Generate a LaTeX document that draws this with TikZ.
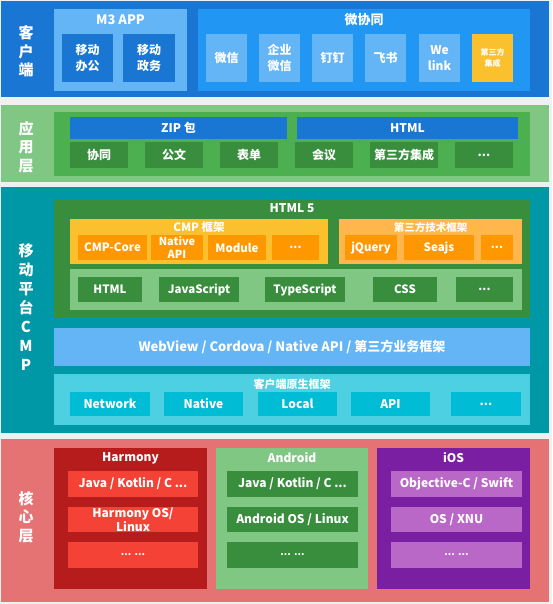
\documentclass[tikz,border=0pt]{standalone}
\usepackage{fontspec}
\setmainfont{Noto Sans CJK SC}
\definecolor{bgc}{HTML}{EDF1F4}
\definecolor{cband}{HTML}{1976D2}
\definecolor{dblue}{HTML}{1976D2}
\definecolor{mblue}{HTML}{2196F3}
\definecolor{lblue}{HTML}{64B5F6}
\definecolor{yel}{HTML}{FBC02D}
\definecolor{gband}{HTML}{81C784}
\definecolor{gmid}{HTML}{4CAF50}
\definecolor{gdark}{HTML}{388E3C}
\definecolor{teal}{HTML}{0097A7}
\definecolor{orng}{HTML}{FF9800}
\definecolor{lorng}{HTML}{FFB74D}
\definecolor{cyanl}{HTML}{4DD0E1}
\definecolor{cyanm}{HTML}{00BCD4}
\definecolor{salmon}{HTML}{E57373}
\definecolor{dred}{HTML}{B71C1C}
\definecolor{red}{HTML}{F44336}
\definecolor{purp}{HTML}{7B1FA2}
\definecolor{lpurp}{HTML}{BA68C8}
\newcommand\rbox[7][]{%
 \pgfmathsetmacro\rbcx{(#3+#5)/2}%
 \pgfmathsetmacro\rbcy{(#4+#6)/2}%
 \pgfmathsetmacro\rbw{#5-#3}%
 \pgfmathsetmacro\rbh{#6-#4}%
 \node[box,minimum width=\rbw pt,minimum height=\rbh pt,#1] (#2) at (\rbcx,\rbcy) {#7};}
\begin{document}
\begin{tikzpicture}[x=1pt,y=-1pt,
  box/.style={rectangle, inner sep=0pt, outer sep=0pt, text=white, align=center, font=\bfseries\fontsize{12}{16}\selectfont},
  rowf/.style={font=\bfseries\fontsize{11.5}{14}\selectfont},
  ttl/.style={inner sep=0pt, text=white, font=\bfseries\fontsize{12}{14}\selectfont},
  small/.style={font=\bfseries\fontsize{11}{13}\selectfont},
  lbl/.style={inner sep=0pt, text=white, align=center, font=\bfseries\fontsize{15}{18.7}\selectfont},
]
\useasboundingbox (0,0) rectangle (552,604);
\fill[bgc] (0,0) rectangle (552,604);
% ---------- client ----------
\rbox[fill=cband]{client}{1}{1}{549}{97}{}
\node[lbl] (clientlbl) at (26,51.5) {客\\户\\端};
\rbox[fill=lblue]{m3}{54}{9}{187}{91}{}
\node[ttl, font=\bfseries\fontsize{13}{15}\selectfont] (m3t) at (120.5,20) {M3 APP};
\rbox[fill=dblue]{yd}{62}{34}{113}{82}{移动\\办公}
\rbox[fill=dblue]{zw}{123}{34}{175}{82}{移动\\政务}
\rbox[fill=mblue]{wxt}{198}{9}{530}{91}{}
\node[ttl, font=\bfseries\fontsize{13}{15}\selectfont] (wxtt) at (364,20) {微协同};
\rbox[fill=lblue]{wx}{206}{34}{247}{82}{微信}
\rbox[fill=lblue]{qywx}{259}{34}{300}{82}{企业\\微信}
\rbox[fill=lblue]{dd}{312}{34}{353}{82}{钉钉}
\rbox[fill=lblue]{fs}{365}{34}{406}{82}{飞书}
\rbox[fill=lblue]{wl}{419}{34}{460}{82}{We\\link}
\rbox[fill=yel,font=\bfseries\fontsize{8}{10.5}\selectfont]{dsf}{472}{34}{513}{82}{第三方\\集成}
% ---------- app ----------
\rbox[fill=gband]{app}{1}{105}{549}{182}{}
\node[lbl] (applbl) at (26,147) {应\\用\\层};
\rbox[fill=gmid]{appin}{54}{112}{530}{176}{}
\rbox[fill=dblue]{zip}{70}{117}{287}{139}{ZIP 包}
\rbox[fill=dblue]{htmlbar}{297}{117}{518}{139}{HTML}
\rbox[fill=gdark]{xt}{70}{142}{128}{168}{协同}
\rbox[fill=gdark]{gw}{145}{142}{203}{168}{公文}
\rbox[fill=gdark]{bd}{220}{142}{278}{168}{表单}
\rbox[fill=gdark]{hy}{295}{142}{353}{168}{会议}
\rbox[fill=gdark]{jc}{370}{142}{438}{168}{第三方集成}
\rbox[fill=gdark]{appmore}{455}{142}{513}{168}{...}
% ---------- CMP ----------
\rbox[fill=teal]{cmp}{1}{187}{549}{433}{}
\node[lbl, font=\bfseries\fontsize{15}{19}\selectfont] (cmplbl) at (26,307.5) {移\\动\\平\\台\\C\\M\\P};
\rbox[fill=gdark]{h5}{54}{200}{530}{318}{}
\node[ttl] (h5t) at (292,208) {HTML 5};
\rbox[fill=yel]{cmpf}{70}{219}{328}{264}{}
\node[ttl, font=\bfseries\fontsize{11.5}{14}\selectfont] (cmpft) at (199,227.5) {CMP 框架};
\rbox[fill=orng, rowf]{core}{78}{235}{147}{260}{CMP-Core}
\rbox[fill=orng, font=\bfseries\fontsize{11}{13}\selectfont]{napi}{151}{235}{203}{260}{Native\\API}
\rbox[fill=orng, rowf]{module}{208}{235}{266}{260}{Module}
\rbox[fill=orng, rowf]{cmpmore}{272}{235}{319}{260}{...}
\rbox[fill=lorng]{tpf}{339}{219}{522}{264}{}
\node[ttl, font=\bfseries\fontsize{10.5}{13}\selectfont] (tpft) at (430.5,227.5) {第三方技术框架};
\rbox[fill=orng, rowf]{jq}{345}{235}{397}{260}{jQuery}
\rbox[fill=orng, rowf]{sea}{404}{235}{474}{260}{Seajs}
\rbox[fill=orng, rowf]{tpmore}{481}{235}{513}{260}{...}
\rbox[fill=gband]{langrow}{70}{269}{522}{310}{}
\rbox[fill=gdark, rowf]{lhtml}{78}{277}{142}{302}{HTML}
\rbox[fill=gdark, rowf]{ljs}{159}{277}{239}{302}{JavaScript}
\rbox[fill=gdark, rowf]{lts}{265}{277}{345}{302}{TypeScript}
\rbox[fill=gdark, rowf]{lcss}{373}{277}{437}{302}{CSS}
\rbox[fill=gdark, rowf]{lmore}{456}{277}{513}{302}{...}
\rbox[fill=lblue, font=\bfseries\fontsize{13}{16}\selectfont]{webview}{54}{328}{530}{366}{WebView / Cordova / Native API / 第三方业务框架}
\rbox[fill=cyanl]{native}{54}{374}{530}{425}{}
\node[ttl, small] (nativet) at (292,384) {客户端原生框架};
\rbox[fill=cyanm]{net}{70}{392}{150}{416}{Network}
\rbox[fill=cyanm]{nat}{164}{392}{243}{416}{Native}
\rbox[fill=cyanm]{loc}{258}{392}{337}{416}{Local}
\rbox[fill=cyanm]{api}{351}{392}{430}{416}{API}
\rbox[fill=cyanm]{natmore}{451}{392}{521}{416}{...}
% ---------- core ----------
\rbox[fill=salmon]{corel}{1}{439}{549}{602}{}
\node[lbl] (corelbl) at (26,517) {核\\心\\层};
\rbox[fill=dred]{harmony}{54}{448}{207}{589}{}
\node[ttl] (harmonyt) at (130.5,458) {Harmony};
\rbox[fill=red]{h1}{68}{471}{198}{497}{Java / Kotlin / C ...}
\rbox[fill=red, font=\bfseries\fontsize{12}{14}\selectfont]{h2}{68}{507}{198}{532}{Harmony OS/\\Linux}
\rbox[fill=red, font=\bfseries\fontsize{10}{12}\selectfont]{h3}{68}{542}{198}{568}{... ...}
\rbox[fill=gband]{android}{216}{448}{368}{589}{}
\node[ttl] (androidt) at (292,458) {Android};
\rbox[fill=gdark]{a1}{227}{471}{358}{497}{Java / Kotlin / C ...}
\rbox[fill=gdark]{a2}{227}{507}{358}{532}{Android OS / Linux}
\rbox[fill=gdark, font=\bfseries\fontsize{10}{12}\selectfont]{a3}{227}{542}{358}{568}{... ...}
\rbox[fill=purp]{ios}{377}{448}{530}{589}{}
\node[ttl] (iost) at (453.5,458) {iOS};
\rbox[fill=lpurp]{i1}{391}{471}{522}{497}{Objective-C / Swift}
\rbox[fill=lpurp]{i2}{391}{507}{522}{532}{OS / XNU}
\rbox[fill=lpurp, font=\bfseries\fontsize{10}{12}\selectfont]{i3}{391}{542}{522}{568}{... ...}
\end{tikzpicture}
\end{document}
